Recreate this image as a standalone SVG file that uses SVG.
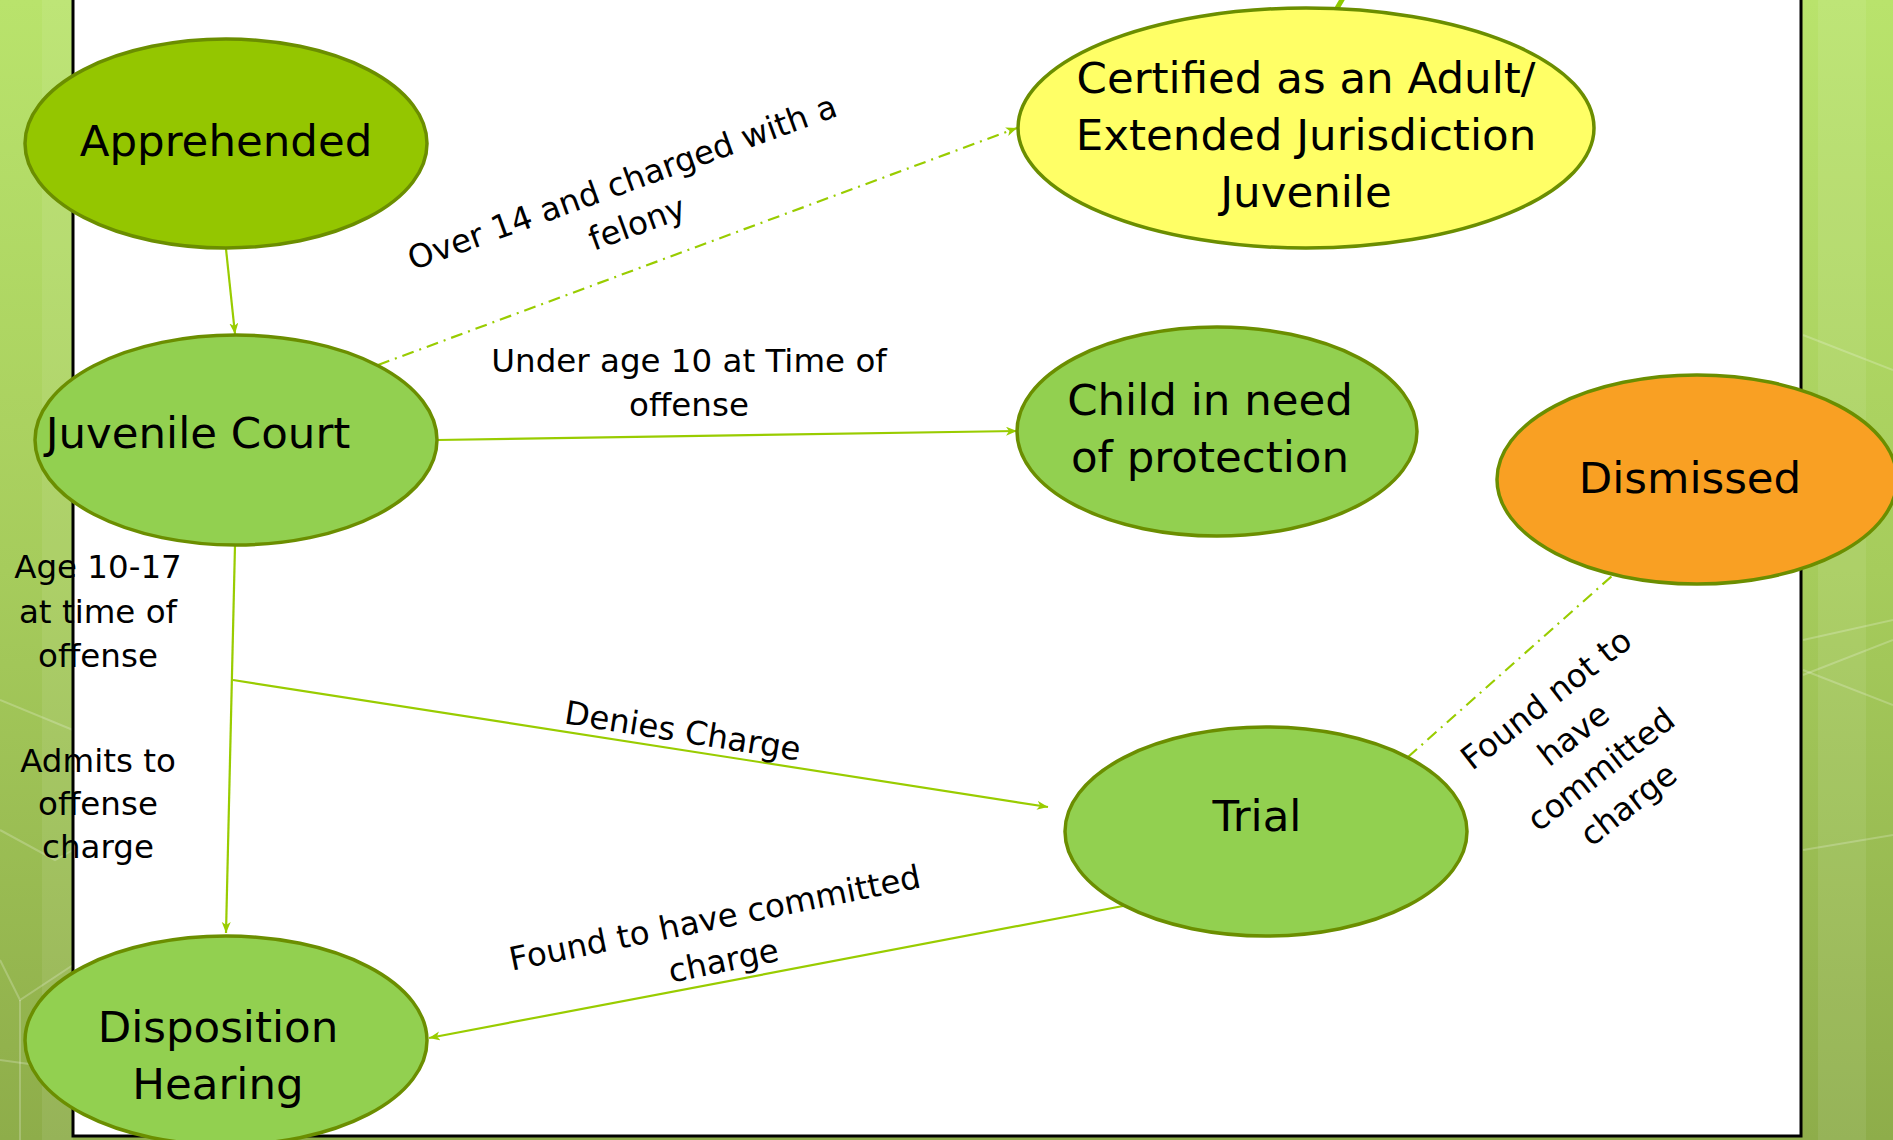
<svg xmlns="http://www.w3.org/2000/svg" width="1893" height="1140" viewBox="0 0 1893 1140">
<defs>
<linearGradient id="bg" x1="0" y1="0" x2="0" y2="1">
<stop offset="0" stop-color="#B9E36C"/>
<stop offset="0.5" stop-color="#A6CC5C"/>
<stop offset="1" stop-color="#8EAD4A"/>
</linearGradient>
<marker id="arr" markerWidth="12" markerHeight="10" refX="11" refY="4.5" orient="auto" markerUnits="userSpaceOnUse">
<path d="M0,0 L11,4.5 L0,9 L3,4.5 z" fill="#99CC00"/>
</marker>
<style>
.node ellipse{stroke:#6B8E00;stroke-width:3.5}
.lbl{font-family:"DejaVu Sans","Liberation Sans",sans-serif;font-size:43.5px;fill:#000;text-anchor:middle}
.elbl{font-family:"DejaVu Sans","Liberation Sans",sans-serif;font-size:32.5px;fill:#000;text-anchor:middle}
.conn{stroke:#99CC00;stroke-width:2.2;fill:none}
.dd{stroke-dasharray:12 6 2 6}
.deco{stroke:#FFFFFF;stroke-opacity:0.22;stroke-width:2;fill:none}
</style>
</defs>
<rect x="0" y="0" width="1893" height="1140" fill="url(#bg)"/>
<rect x="42" y="0" width="31" height="1140" fill="#FFFFFF" fill-opacity="0.08"/>
<rect x="1818" y="0" width="48" height="1140" fill="#FFFFFF" fill-opacity="0.08"/>
<g class="deco">
<polyline points="0,830 55,860 73,850"/>
<polyline points="0,700 73,730"/>
<polyline points="0,960 20,1000 73,965"/>
<polyline points="20,1000 20,1140"/>
<polyline points="0,1060 73,1070"/>
<polyline points="1803,335 1893,370"/>
<polyline points="1803,475 1893,490"/>
<polyline points="1803,520 1893,495"/>
<polyline points="1803,640 1893,620"/>
<polyline points="1803,850 1893,835"/>
<polyline points="1803,670 1893,705"/>
<polyline points="1803,675 1893,640"/>
</g>
<rect x="73" y="-5" width="1728" height="1141" fill="#FFFFFF" stroke="#000000" stroke-width="3"/>
<g id="connectors">
<line class="conn" x1="226" y1="249" x2="235" y2="334" marker-end="url(#arr)"/>
<line class="conn dd" x1="378" y1="365" x2="1017" y2="128" marker-end="url(#arr)"/>
<line class="conn" x1="437" y1="440" x2="1017" y2="431" marker-end="url(#arr)"/>
<line class="conn" x1="235" y1="545" x2="226" y2="933" marker-end="url(#arr)"/>
<line class="conn" x1="233" y1="680" x2="1048" y2="807" marker-end="url(#arr)"/>
<line class="conn" x1="1123" y1="906" x2="429" y2="1038" marker-end="url(#arr)"/>
<line class="conn dd" x1="1408" y1="757" x2="1612" y2="576"/>
<line x1="1336" y1="10" x2="1343" y2="-2" stroke="#8FCB00" stroke-width="5"/>
</g>
<g id="edge-labels">
<text class="elbl" transform="translate(626,193) rotate(-20)"><tspan x="0" y="0">Over 14 and charged with a</tspan><tspan x="0" y="43.5">felony</tspan></text>
<text class="elbl"><tspan x="689" y="372">Under age 10 at Time of</tspan><tspan x="689" y="416">offense</tspan></text>
<text class="elbl"><tspan x="98" y="578">Age 10-17</tspan><tspan x="98" y="623">at time of</tspan><tspan x="98" y="667">offense</tspan></text>
<text class="elbl"><tspan x="98" y="772">Admits to</tspan><tspan x="98" y="815">offense</tspan><tspan x="98" y="858">charge</tspan></text>
<text class="elbl" transform="translate(681,742) rotate(9)"><tspan x="0" y="0">Denies Charge</tspan></text>
<text class="elbl" transform="translate(717,929) rotate(-11.5)"><tspan x="0" y="0">Found to have committed</tspan><tspan x="0" y="43.5">charge</tspan></text>
<text class="elbl" transform="translate(1553,708) rotate(-38)"><tspan x="0" y="0">Found not to</tspan><tspan x="0" y="44.5">have</tspan><tspan x="0" y="89">committed</tspan><tspan x="0" y="133.5">charge</tspan></text>
</g>
<g id="apprehended" class="node">
<ellipse cx="226" cy="143.5" rx="201" ry="104.5" fill="#94C600"/>
<text class="lbl" x="226" y="156">Apprehended</text>
</g>
<g id="juvenile-court" class="node">
<ellipse cx="236" cy="440" rx="201" ry="105" fill="#92D050"/>
<text class="lbl" x="198" y="448">Juvenile Court</text>
</g>
<g id="certified" class="node">
<ellipse cx="1306" cy="128" rx="288" ry="120" fill="#FFFF66"/>
<text class="lbl"><tspan x="1306" y="93">Certified as an Adult/</tspan><tspan x="1306" y="150">Extended Jurisdiction</tspan><tspan x="1306" y="207">Juvenile</tspan></text>
</g>
<g id="child-in-need" class="node">
<ellipse cx="1217" cy="431.5" rx="200" ry="104.5" fill="#92D050"/>
<text class="lbl"><tspan x="1210" y="415">Child in need</tspan><tspan x="1210" y="472">of protection</tspan></text>
</g>
<g id="dismissed" class="node">
<ellipse cx="1697" cy="479.5" rx="200" ry="104.5" fill="#F9A023"/>
<text class="lbl" x="1690" y="493">Dismissed</text>
</g>
<g id="trial" class="node">
<ellipse cx="1266" cy="831.5" rx="201" ry="104.5" fill="#92D050"/>
<text class="lbl" x="1257" y="831">Trial</text>
</g>
<g id="disposition-hearing" class="node">
<ellipse cx="226" cy="1040.5" rx="201" ry="104.5" fill="#92D050"/>
<text class="lbl"><tspan x="218" y="1042">Disposition</tspan><tspan x="218" y="1099">Hearing</tspan></text>
</g>
</svg>
